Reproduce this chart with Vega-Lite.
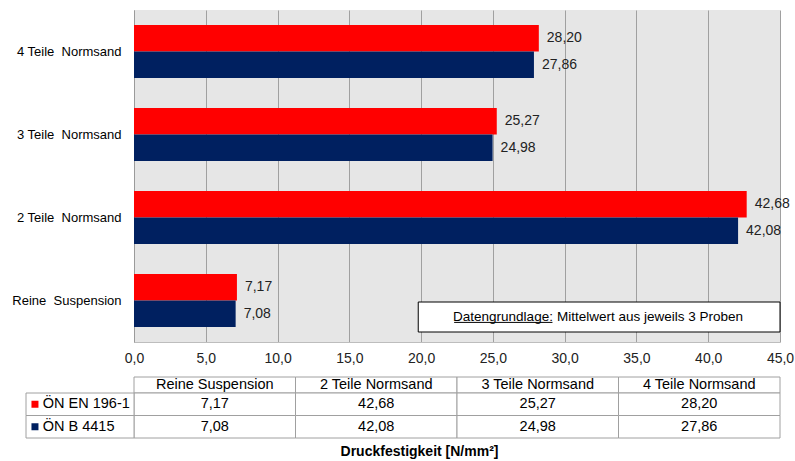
{
  "$schema": "https://vega.github.io/schema/vega-lite/v6.json",
  "width": 646,
  "height": 332,
  "autosize": {"type": "none"},
  "padding": {"left": 134, "top": 10, "right": 15, "bottom": 119},
  "config": {
    "locale": {"number": {"decimal": ",", "thousands": ".", "grouping": [3], "currency": ["", " €"]}},
    "font": "Liberation Sans",
    "view": {"fill": "#E6E6E6", "stroke": null},
    "text": {"font": "Liberation Sans"}
  },
  "datasets": {
    "main": [
      {"cat": "Reine Suspension", "series": "ÖN EN 196-1", "value": 7.17},
      {"cat": "Reine Suspension", "series": "ÖN B 4415", "value": 7.08},
      {"cat": "2 Teile Normsand", "series": "ÖN EN 196-1", "value": 42.68},
      {"cat": "2 Teile Normsand", "series": "ÖN B 4415", "value": 42.08},
      {"cat": "3 Teile Normsand", "series": "ÖN EN 196-1", "value": 25.27},
      {"cat": "3 Teile Normsand", "series": "ÖN B 4415", "value": 24.98},
      {"cat": "4 Teile Normsand", "series": "ÖN EN 196-1", "value": 28.20},
      {"cat": "4 Teile Normsand", "series": "ÖN B 4415", "value": 27.86}
    ],
    "cats": [
      {"cat": "Reine Suspension"},
      {"cat": "2 Teile Normsand"},
      {"cat": "3 Teile Normsand"},
      {"cat": "4 Teile Normsand"}
    ],
    "series": [
      {"series": "ÖN EN 196-1"},
      {"series": "ÖN B 4415"}
    ],
    "note": [
      {"lead": "Datengrundlage:", "text": "Mittelwert aus jeweils 3 Proben"}
    ]
  },
  "resolve": {"scale": {"x": "independent", "y": "independent", "color": "independent"}, "axis": {"x": "independent", "y": "independent"}},
  "layer": [
    {
      "data": {"name": "main"},
      "encoding": {
        "y": {
          "field": "cat", "type": "nominal",
          "sort": ["4 Teile Normsand", "3 Teile Normsand", "2 Teile Normsand", "Reine Suspension"],
          "scale": {"paddingInner": 0.36, "paddingOuter": 0.18},
          "axis": {
            "title": null, "labelFontSize": 13, "labelColor": "#000000", "labelPadding": 13,
            "ticks": false, "domainColor": "#9A9A9A", "grid": false, "labelFont": "Liberation Sans",
            "labelExpr": "replace(replace(datum.label, ' Normsand', '\u00a0 Normsand'), ' Suspension', '\u00a0 Suspension')"
          }
        },
        "yOffset": {
          "field": "series", "type": "nominal",
          "sort": ["ÖN EN 196-1", "ÖN B 4415"],
          "scale": {"paddingInner": 0, "paddingOuter": 0}
        },
        "x": {
          "field": "value", "type": "quantitative",
          "scale": {"domain": [0, 45], "nice": false},
          "axis": {
            "values": [0, 5, 10, 15, 20, 25, 30, 35, 40, 45],
            "format": ".1f",
            "title": "Druckfestigkeit [N/mm²]",
            "titleFontSize": 14, "titleFontWeight": "bold", "titleColor": "#000000",
            "titleFont": "Liberation Sans",
            "titleX": 285, "titleY": 113, "titleAlign": "center", "titleBaseline": "alphabetic",
            "labelFontSize": 14, "labelPadding": 9, "labelColor": "#222222", "labelFlush": false,
            "labelFont": "Liberation Sans",
            "ticks": false, "grid": true, "gridColor": "#A0A0A0", "gridWidth": 1,
            "domainColor": "#BDBDBD"
          }
        }
      },
      "layer": [
        {
          "mark": {"type": "bar"},
          "encoding": {
            "color": {
              "field": "series", "type": "nominal",
              "scale": {"domain": ["ÖN EN 196-1", "ÖN B 4415"], "range": ["#FF0000", "#002060"]},
              "legend": null
            }
          }
        },
        {
          "mark": {"type": "text", "align": "left", "baseline": "middle", "dx": 8, "fontSize": 14, "color": "#222222"},
          "encoding": {
            "text": {"field": "value", "type": "quantitative", "format": ".2f"}
          }
        }
      ]
    },
    {
      "data": {"name": "note"},
      "encoding": {
        "y": {
          "datum": "note", "type": "nominal",
          "scale": {"domain": ["note"], "range": [292, 322], "paddingInner": 0, "paddingOuter": 0},
          "axis": null
        }
      },
      "layer": [
        {
          "mark": {"type": "rect", "fill": "#FFFFFF", "stroke": "#000000", "strokeWidth": 1},
          "encoding": {
            "x": {"datum": 19.8, "type": "quantitative", "scale": {"domain": [0, 45], "nice": false}, "axis": null},
            "x2": {"datum": 45}
          }
        },
        {
          "mark": {"type": "text", "align": "right", "baseline": "middle", "fontSize": 13.5, "color": "#000000", "dx": -1},
          "encoding": {
            "x": {"datum": 29.25, "type": "quantitative"},
            "text": {"field": "lead"}
          }
        },
        {
          "mark": {"type": "text", "align": "left", "baseline": "middle", "fontSize": 13.5, "color": "#000000", "dx": 3},
          "encoding": {
            "x": {"datum": 29.25, "type": "quantitative"},
            "text": {"field": "text"}
          }
        },
        {
          "mark": {"type": "rule", "color": "#000000", "strokeWidth": 1},
          "encoding": {
            "x": {"datum": 22.3, "type": "quantitative"},
            "x2": {"datum": 29.15},
            "y": {"datum": "note", "type": "nominal", "bandPosition": 0.68}
          }
        }
      ]
    },
    {
      "data": {"name": "cats"},
      "encoding": {
        "x": {
          "field": "cat", "type": "nominal",
          "sort": ["Reine Suspension", "2 Teile Normsand", "3 Teile Normsand", "4 Teile Normsand"],
          "scale": {"range": [0, 646], "paddingInner": 0, "paddingOuter": 0},
          "axis": null
        },
        "y": {
          "datum": "header", "type": "nominal",
          "scale": {"domain": ["header"], "range": [367, 383], "paddingInner": 0, "paddingOuter": 0},
          "axis": null
        }
      },
      "layer": [
        {"mark": {"type": "rect", "fill": "#FFFFFF", "stroke": "#A0A0A0", "strokeWidth": 1}},
        {
          "mark": {"type": "text", "align": "center", "baseline": "middle", "fontSize": 14.5, "color": "#000000"},
          "encoding": {"text": {"field": "cat"}}
        }
      ]
    },
    {
      "data": {"name": "main"},
      "encoding": {
        "x": {
          "field": "cat", "type": "nominal",
          "sort": ["Reine Suspension", "2 Teile Normsand", "3 Teile Normsand", "4 Teile Normsand"],
          "scale": {"range": [0, 646], "paddingInner": 0, "paddingOuter": 0},
          "axis": null
        },
        "y": {
          "field": "series", "type": "nominal",
          "sort": ["ÖN EN 196-1", "ÖN B 4415"],
          "scale": {"range": [383, 428], "paddingInner": 0, "paddingOuter": 0},
          "axis": null
        }
      },
      "layer": [
        {"mark": {"type": "rect", "fill": "#FFFFFF", "stroke": "#A0A0A0", "strokeWidth": 1}},
        {
          "mark": {"type": "text", "align": "center", "baseline": "middle", "fontSize": 14.5, "color": "#000000"},
          "encoding": {"text": {"field": "value", "type": "quantitative", "format": ".2f"}}
        }
      ]
    },
    {
      "data": {"name": "series"},
      "encoding": {
        "y": {
          "field": "series", "type": "nominal",
          "sort": ["ÖN EN 196-1", "ÖN B 4415"],
          "scale": {"range": [383, 428], "paddingInner": 0, "paddingOuter": 0},
          "axis": null
        }
      },
      "layer": [
        {
          "mark": {"type": "rect", "fill": "#FFFFFF", "stroke": "#A0A0A0", "strokeWidth": 1},
          "encoding": {
            "x": {"datum": "legend", "type": "nominal", "scale": {"domain": ["legend"], "range": [-108, 0], "paddingInner": 0, "paddingOuter": 0}, "axis": null}
          }
        },
        {
          "mark": {"type": "point", "shape": "square", "filled": true, "size": 49, "opacity": 1},
          "encoding": {
            "x": {"datum": "legend", "type": "nominal", "bandPosition": 0.083},
            "color": {
              "field": "series", "type": "nominal",
              "scale": {"domain": ["ÖN EN 196-1", "ÖN B 4415"], "range": ["#FF0000", "#002060"]},
              "legend": null
            }
          }
        },
        {
          "mark": {"type": "text", "align": "left", "baseline": "middle", "fontSize": 14.5, "color": "#000000"},
          "encoding": {
            "x": {"datum": "legend", "type": "nominal", "bandPosition": 0.155},
            "text": {"field": "series"}
          }
        }
      ]
    }
  ]
}
